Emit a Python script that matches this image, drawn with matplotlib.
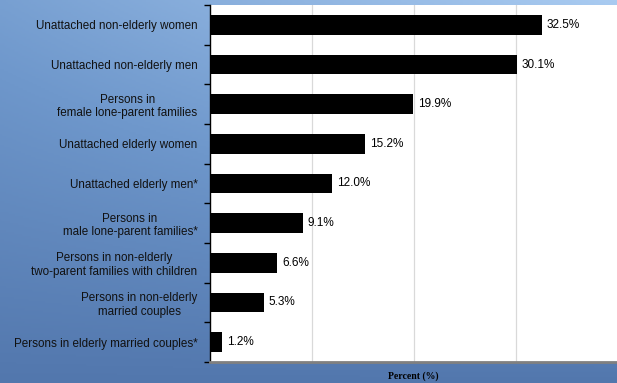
import numpy as np
import matplotlib.pyplot as plt
from matplotlib.colors import LinearSegmentedColormap

categories = ["Unattached non-elderly women",
              "Unattached non-elderly men",
              "Persons in\nfemale lone-parent families",
              "Unattached elderly women",
              "Unattached elderly men*",
              "Persons in\nmale lone-parent families*",
              "Persons in non-elderly\ntwo-parent families with children",
              "Persons in non-elderly\nmarried couples",
              "Persons in elderly married couples*"]
values = [32.5, 30.1, 19.9, 15.2, 12.0, 9.1, 6.6, 5.3, 1.2]
value_labels = ["32.5%", "30.1%", "19.9%", "15.2%", "12.0%", "9.1%", "6.6%", "5.3%", "1.2%"]

fig = plt.figure(figsize=(6.17, 3.83), dpi=100)

# blue gradient background, dark at the bottom, light top right
bg = fig.add_axes([0, 0, 1, 1], zorder=-1)
xx, yy = np.meshgrid(np.linspace(0, 1, 300), np.linspace(0, 1, 200))
t = 0.15 + 0.85*yy*(0.5 + 0.5*xx)
cmap = LinearSegmentedColormap.from_list("bg", ["#4669a0", "#6f98cc", "#a9cbf1"])
bg.imshow(t, cmap=cmap, origin="lower", extent=[0, 1, 0, 1], aspect="auto", vmin=0, vmax=1)
bg.axis("off")

ax = fig.add_axes([210/617, 21/383, 407/617, 357/383])
ax.set_facecolor("white")
y = np.arange(len(categories))
ax.barh(y, values, height=0.5, color="black", zorder=3)
for yi, v, lab in zip(y, values, value_labels):
    ax.text(v + 0.45, yi, lab, va="center", ha="left", fontsize=8.5,
            family="Liberation Sans", color="black", zorder=4)

ax.set_xlim(0, 39.9)
ax.set_ylim(len(categories) - 0.5, -0.5)
ax.set_xticks([10, 20, 30])
ax.set_xticklabels([])
ax.tick_params(axis="x", length=0)
ax.grid(axis="x", color="#d9d9d9", linewidth=0.9, zorder=0)

ax.set_yticks(y)
ax.set_yticklabels(categories, fontsize=8.4, family="Liberation Sans",
                   multialignment="center", color="#111111")
ax.tick_params(axis="y", which="major", length=0, pad=9)
ax.set_yticks(np.arange(len(categories) + 1) - 0.5, minor=True)
ax.tick_params(axis="y", which="minor", length=4, width=1, color="black")

for s in ["top", "right"]:
    ax.spines[s].set_visible(False)
ax.spines["left"].set_color("black")
ax.spines["left"].set_linewidth(1)
ax.spines["bottom"].set_color("#808080")
ax.spines["bottom"].set_linewidth(2)

ax.set_xlabel("Percent (%)", fontsize=7, family="Liberation Serif",
              fontweight="bold", labelpad=3)

fig.savefig("out.png", dpi=100)
